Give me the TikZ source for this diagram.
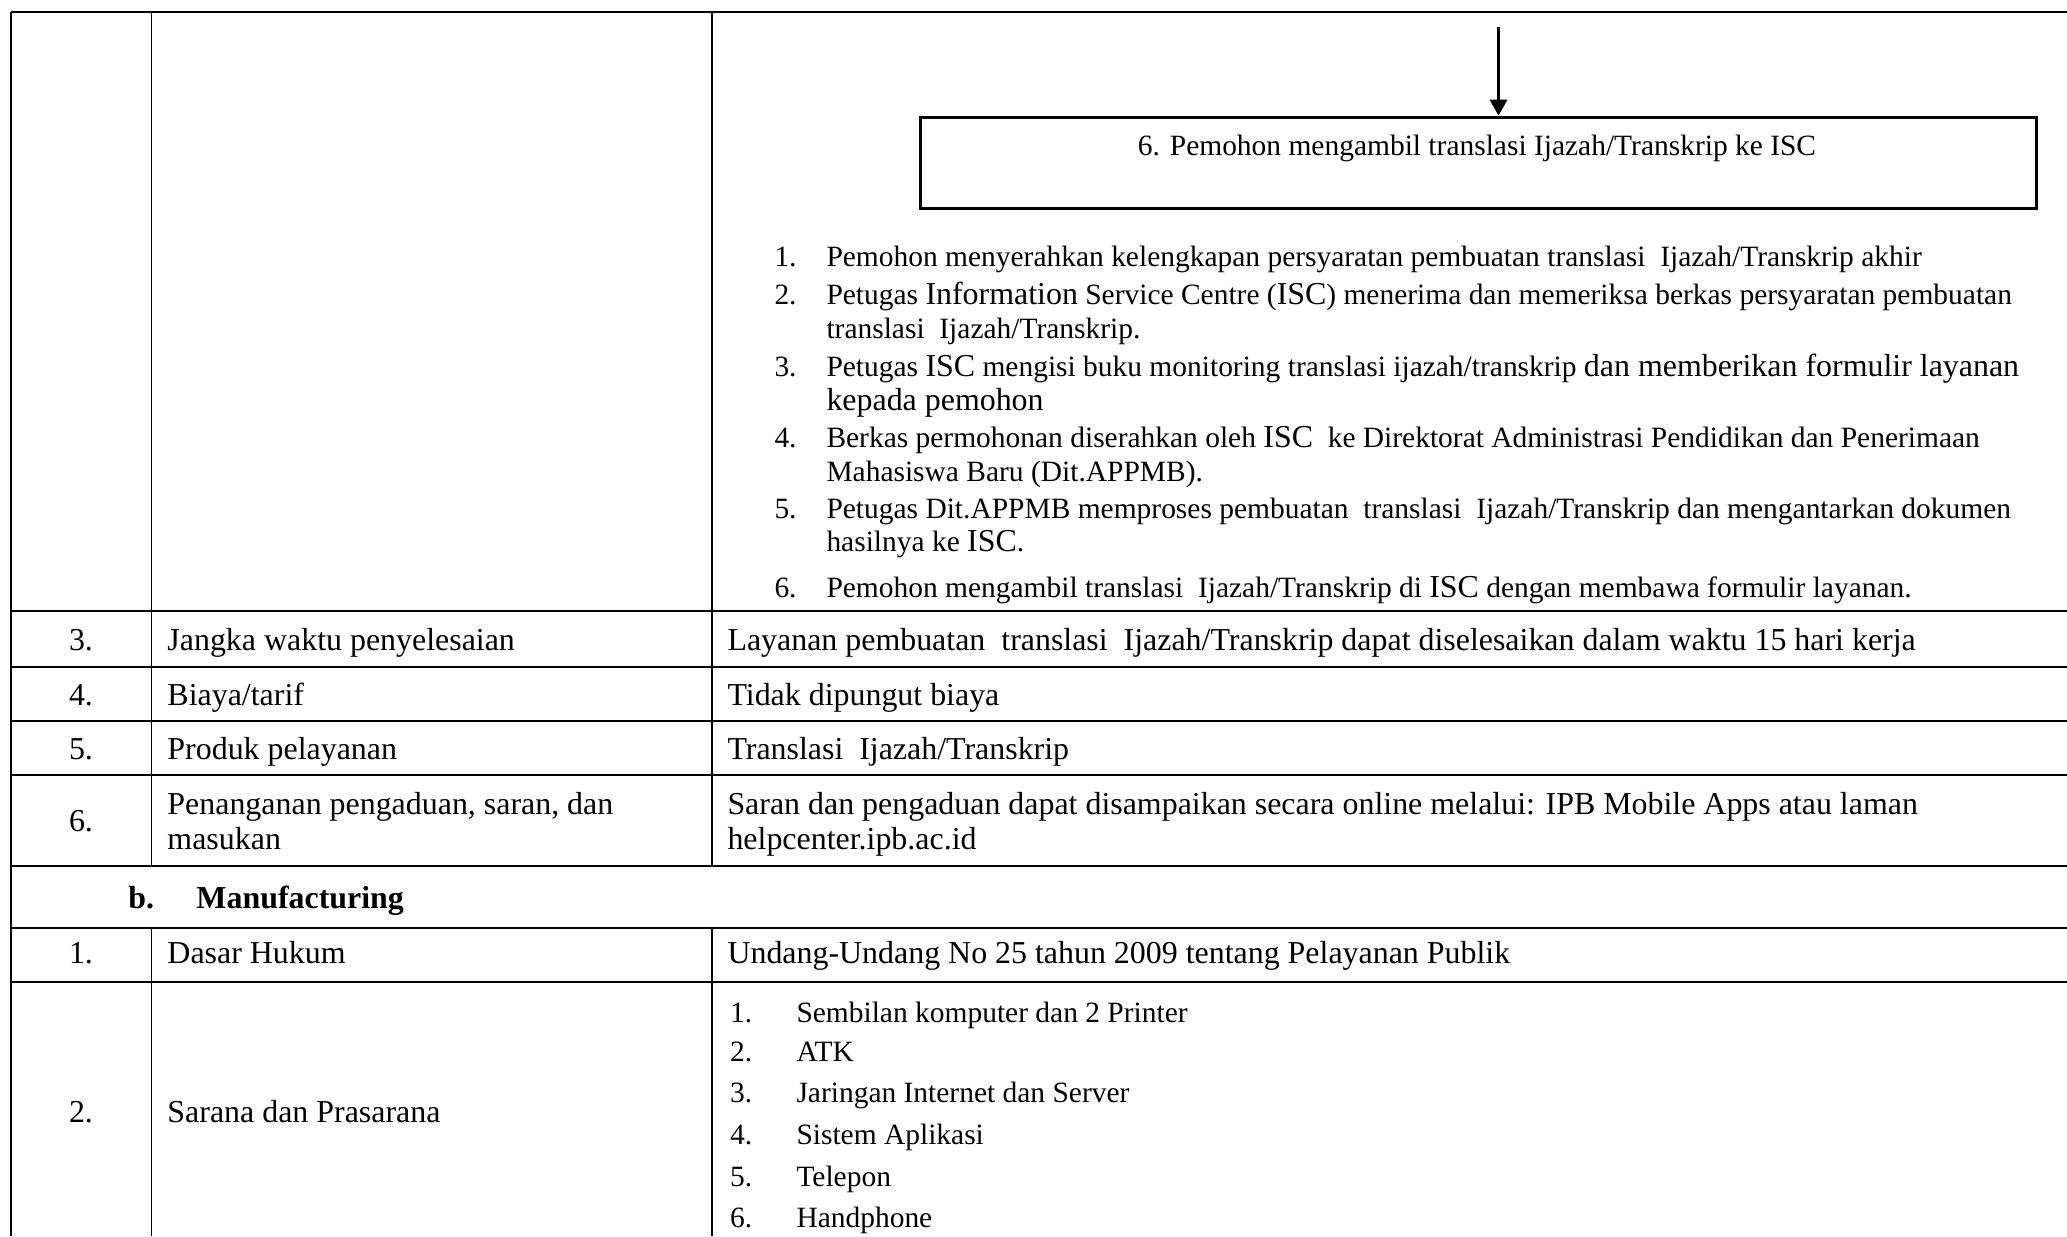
\documentclass[tikz,border=0pt]{standalone}
\usepackage{fontspec}
\setmainfont{Liberation Serif}
\usetikzlibrary{arrows.meta,fit}
\newcommand{\cellsz}{\fontsize{13}{15}\selectfont}
\newcommand{\bigsz}{\fontsize{13}{15}\selectfont}
\newcommand{\smallsz}{\fontsize{12}{14}\selectfont}
\begin{document}
\begin{tikzpicture}[x=0.4073pt,y=-0.4073pt,
  rule/.style={line width=0.8pt},
  cell/.style={anchor=base west,inner sep=0pt,font=\cellsz},
  num/.style={anchor=base,inner sep=0pt,font=\cellsz},
  item/.style={anchor=base west,inner sep=0pt,font=\smallsz},
  flow/.style={anchor=base west,inner sep=0pt,font=\smallsz},
  stepbox/.style={draw,line width=1.4pt,inner sep=0pt}]
\useasboundingbox[fill=white] (0,0) rectangle (2067,1236);

% table rules
\draw[rule] (11,12) -- (2067,12);
\foreach \yy in {611,667,721,775,866,928,982}
  \draw[rule] (11,\yy) -- (2067,\yy);
\draw[rule] (11,12) -- (11,1236);
\foreach \xx in {151.5,711.7}{
  \draw[rule] (\xx,12) -- (\xx,866);
  \draw[rule] (\xx,928) -- (\xx,1236);
}

% flow step 6
\coordinate (arrtop) at (1498.5,27);
\node[stepbox,fit={(920.6,117.3)(2036.5,208.3)}] (box6) {};
\node[anchor=base,inner sep=0pt,font=\smallsz] (box6txt) at (1477,155)
  {6. Pemohon mengambil translasi Ijazah/Transkrip ke ISC};
\draw[line width=1.2pt,-{Triangle[length=6.5pt,width=7pt]}] (arrtop) -- (arrtop |- box6.north);

% procedure list
\node[flow] (n1) at (774,266) {1.};
\node[flow] (t1) at (826,266) {Pemohon menyerahkan kelengkapan persyaratan pembuatan translasi\ \ Ijazah/Transkrip akhir};
\node[flow] (n2) at (774,304) {2.};
\node[flow] (t2) at (826,304) {Petugas {\bigsz Information} Service Centre ({\bigsz ISC}) menerima dan memeriksa berkas persyaratan pembuatan};
\node[flow] (t2b) at (826,338) {translasi\ \ Ijazah/Transkrip.};
\node[flow] (n3) at (774,376) {3.};
\node[flow] (t3) at (826,376) {Petugas {\bigsz ISC} mengisi buku monitoring translasi ijazah/transkrip {\bigsz dan memberikan formulir layanan}};
\node[flow] (t3b) at (826,410) {\bigsz kepada pemohon};
\node[flow] (n4) at (774,447) {4.};
\node[flow] (t4) at (826,447) {Berkas permohonan diserahkan oleh {\bigsz ISC}\ \ ke Direktorat Administrasi Pendidikan dan Penerimaan};
\node[flow] (t4b) at (826,481) {Mahasiswa Baru (Dit.APPMB).};
\node[flow] (n5) at (774,518) {5.};
\node[flow] (t5) at (826,518) {Petugas Dit.APPMB memproses pembuatan\ \ translasi\ \ Ijazah/Transkrip dan mengantarkan dokumen};
\node[flow] (t5b) at (826,551) {hasilnya ke {\bigsz ISC}.};
\node[flow] (n6) at (774,597) {6.};
\node[flow] (t6) at (826,597) {Pemohon mengambil translasi\ \ Ijazah/Transkrip di {\bigsz ISC} dengan membawa formulir layanan.};

% rows 3 to 6
\node[num] (r3n) at (81,650) {3.};
\node[cell] (r3a) at (167,650) {Jangka waktu penyelesaian};
\node[cell] (r3b) at (727,650) {Layanan pembuatan\ \ translasi\ \ Ijazah/Transkrip dapat diselesaikan dalam waktu 15 hari kerja};
\node[num] (r4n) at (81,705) {4.};
\node[cell] (r4a) at (167,705) {Biaya/tarif};
\node[cell] (r4b) at (727,705) {Tidak dipungut biaya};
\node[num] (r5n) at (81,759) {5.};
\node[cell] (r5a) at (167,759) {Produk pelayanan};
\node[cell] (r5b) at (727,759) {Translasi\ \ Ijazah/Transkrip};
\node[num] (r6n) at (81,831) {6.};
\node[cell] (r6a) at (167,814) {Penanganan pengaduan, saran, dan};
\node[cell] (r6a2) at (167,849) {masukan};
\node[cell] (r6b) at (727,814) {Saran dan pengaduan dapat disampaikan secara online melalui: IPB Mobile Apps atau laman};
\node[cell] (r6b2) at (727,849) {helpcenter.ipb.ac.id};

% section b
\node[cell,font=\cellsz\bfseries] (secb) at (128,908) {b.};
\node[cell,font=\cellsz\bfseries] (secbt) at (196,908) {Manufacturing};

\node[num] (m1n) at (81,963) {1.};
\node[cell] (m1a) at (167,963) {Dasar Hukum};
\node[cell] (m1b) at (727,963) {Undang-Undang No 25 tahun 2009 tentang Pelayanan Publik};

\node[num] (m2n) at (81,1122) {2.};
\node[cell] (m2a) at (167,1122) {Sarana dan Prasarana};
\foreach \i/\yy/\txt in {1/1022/Sembilan komputer dan 2 Printer,2/1061/ATK,3/1102/Jaringan Internet dan Server,4/1144/Sistem Aplikasi,5/1186/Telepon,6/1227/Handphone}{
  \node[item] (li\i) at (729.6,\yy) {\i.};
  \node[item] (lt\i) at (796,\yy) {\txt};
}
\end{tikzpicture}
\end{document}
